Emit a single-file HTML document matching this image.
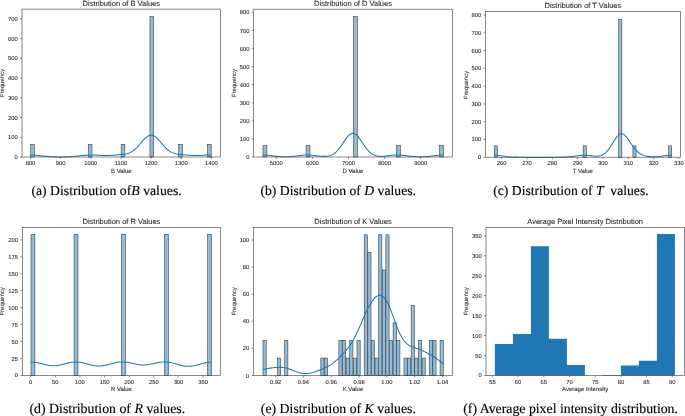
<!DOCTYPE html>
<html><head><meta charset="utf-8"><style>
html,body{margin:0;padding:0;background:#fff;}
body{width:685px;height:416px;overflow:hidden;}
svg{display:block;will-change:transform;filter:blur(0.3px);}
svg text{text-rendering:geometricPrecision;font-family:"Liberation Sans", sans-serif;fill:#262626;stroke:#262626;stroke-width:0.08px;}
svg text.cap{font-family:"Liberation Serif", serif;fill:#000;stroke:#000;stroke-width:0.15px;}
</style></head><body>
<svg width="685" height="416" viewBox="0 0 685 416">
<g>
<rect x="30.7" y="144.38" width="3.71" height="12.62" fill="#8fbbd9" stroke="#333333" stroke-width="0.55"/>
<rect x="88.26" y="144.38" width="3.71" height="12.62" fill="#8fbbd9" stroke="#333333" stroke-width="0.55"/>
<rect x="121.15" y="144.38" width="3.71" height="12.62" fill="#8fbbd9" stroke="#333333" stroke-width="0.55"/>
<rect x="149.93" y="16.54" width="3.71" height="140.46" fill="#8fbbd9" stroke="#333333" stroke-width="0.55"/>
<rect x="178.71" y="144.38" width="3.71" height="12.62" fill="#8fbbd9" stroke="#333333" stroke-width="0.55"/>
<rect x="207.49" y="144.38" width="3.71" height="12.62" fill="#8fbbd9" stroke="#333333" stroke-width="0.55"/>
<path d="M30.5,155.02 L31.41,155.03 L32.32,155.05 L33.23,155.09 L34.14,155.13 L35.05,155.19 L35.95,155.27 L36.86,155.35 L37.77,155.43 L38.68,155.53 L39.59,155.63 L40.5,155.73 L41.41,155.83 L42.32,155.93 L43.23,156.03 L44.14,156.13 L45.04,156.22 L45.95,156.31 L46.86,156.39 L47.77,156.47 L48.68,156.54 L49.59,156.6 L50.5,156.66 L51.41,156.71 L52.32,156.76 L53.23,156.79 L54.14,156.83 L55.04,156.86 L55.95,156.88 L56.86,156.9 L57.77,156.91 L58.68,156.92 L59.59,156.93 L60.5,156.93 L61.41,156.93 L62.32,156.92 L63.23,156.91 L64.13,156.9 L65.04,156.88 L65.95,156.86 L66.86,156.84 L67.77,156.81 L68.68,156.77 L69.59,156.73 L70.5,156.68 L71.41,156.62 L72.32,156.56 L73.23,156.49 L74.13,156.42 L75.04,156.34 L75.95,156.25 L76.86,156.16 L77.77,156.07 L78.68,155.97 L79.59,155.86 L80.5,155.76 L81.41,155.66 L82.32,155.56 L83.22,155.46 L84.13,155.37 L85.04,155.28 L85.95,155.21 L86.86,155.14 L87.77,155.09 L88.68,155.04 L89.59,155.01 L90.5,154.99 L91.41,154.98 L92.32,154.99 L93.22,155.01 L94.13,155.03 L95.04,155.07 L95.95,155.12 L96.86,155.17 L97.77,155.22 L98.68,155.28 L99.59,155.33 L100.5,155.38 L101.41,155.43 L102.31,155.47 L103.22,155.51 L104.13,155.53 L105.04,155.55 L105.95,155.55 L106.86,155.54 L107.77,155.52 L108.68,155.49 L109.59,155.46 L110.5,155.41 L111.41,155.35 L112.31,155.29 L113.22,155.23 L114.13,155.16 L115.04,155.09 L115.95,155.02 L116.86,154.94 L117.77,154.87 L118.68,154.8 L119.59,154.72 L120.5,154.64 L121.4,154.55 L122.31,154.46 L123.22,154.35 L124.13,154.22 L125.04,154.08 L125.95,153.9 L126.86,153.69 L127.77,153.43 L128.68,153.13 L129.59,152.77 L130.49,152.36 L131.4,151.88 L132.31,151.33 L133.22,150.7 L134.13,150.01 L135.04,149.24 L135.95,148.41 L136.86,147.51 L137.77,146.55 L138.68,145.54 L139.59,144.5 L140.49,143.44 L141.4,142.37 L142.31,141.31 L143.22,140.29 L144.13,139.31 L145.04,138.4 L145.95,137.57 L146.86,136.85 L147.77,136.25 L148.68,135.77 L149.58,135.44 L150.49,135.26 L151.4,135.24 L152.31,135.37 L153.22,135.65 L154.13,136.07 L155.04,136.63 L155.95,137.32 L156.86,138.11 L157.77,139 L158.68,139.95 L159.58,140.97 L160.49,142.02 L161.4,143.08 L162.31,144.15 L163.22,145.2 L164.13,146.22 L165.04,147.19 L165.95,148.11 L166.86,148.97 L167.77,149.76 L168.67,150.48 L169.58,151.13 L170.49,151.7 L171.4,152.2 L172.31,152.64 L173.22,153.02 L174.13,153.34 L175.04,153.61 L175.95,153.83 L176.86,154.02 L177.77,154.18 L178.67,154.31 L179.58,154.42 L180.49,154.52 L181.4,154.61 L182.31,154.69 L183.22,154.77 L184.13,154.85 L185.04,154.92 L185.95,154.99 L186.86,155.06 L187.76,155.14 L188.67,155.21 L189.58,155.27 L190.49,155.34 L191.4,155.39 L192.31,155.44 L193.22,155.48 L194.13,155.52 L195.04,155.54 L195.95,155.55 L196.86,155.55 L197.76,155.54 L198.67,155.52 L199.58,155.49 L200.49,155.45 L201.4,155.4 L202.31,155.35 L203.22,155.29 L204.13,155.24 L205.04,155.18 L205.95,155.13 L206.85,155.09 L207.76,155.05 L208.67,155.01 L209.58,154.99 L210.49,154.98 L211.4,154.99" fill="none" stroke="#1f77b4" stroke-width="1.05" stroke-linejoin="round"/>
<rect x="22" y="9.1" width="198.6" height="147.9" fill="none" stroke="#3a3a3a" stroke-width="0.6"/>
<line x1="30.5" y1="157" x2="30.5" y2="158.9" stroke="#3a3a3a" stroke-width="0.6"/>
<text x="30.5" y="165" text-anchor="middle" font-size="5.8">800</text>
<line x1="60.65" y1="157" x2="60.65" y2="158.9" stroke="#3a3a3a" stroke-width="0.6"/>
<text x="60.65" y="165" text-anchor="middle" font-size="5.8">900</text>
<line x1="90.8" y1="157" x2="90.8" y2="158.9" stroke="#3a3a3a" stroke-width="0.6"/>
<text x="90.8" y="165" text-anchor="middle" font-size="5.8">1000</text>
<line x1="120.95" y1="157" x2="120.95" y2="158.9" stroke="#3a3a3a" stroke-width="0.6"/>
<text x="120.95" y="165" text-anchor="middle" font-size="5.8">1100</text>
<line x1="151.1" y1="157" x2="151.1" y2="158.9" stroke="#3a3a3a" stroke-width="0.6"/>
<text x="151.1" y="165" text-anchor="middle" font-size="5.8">1200</text>
<line x1="181.25" y1="157" x2="181.25" y2="158.9" stroke="#3a3a3a" stroke-width="0.6"/>
<text x="181.25" y="165" text-anchor="middle" font-size="5.8">1300</text>
<line x1="211.4" y1="157" x2="211.4" y2="158.9" stroke="#3a3a3a" stroke-width="0.6"/>
<text x="211.4" y="165" text-anchor="middle" font-size="5.8">1400</text>
<line x1="20.1" y1="157" x2="22" y2="157" stroke="#3a3a3a" stroke-width="0.6"/>
<text x="17.7" y="159.05" text-anchor="end" font-size="5.8">0</text>
<line x1="20.1" y1="137.27" x2="22" y2="137.27" stroke="#3a3a3a" stroke-width="0.6"/>
<text x="17.7" y="139.32" text-anchor="end" font-size="5.8">100</text>
<line x1="20.1" y1="117.54" x2="22" y2="117.54" stroke="#3a3a3a" stroke-width="0.6"/>
<text x="17.7" y="119.59" text-anchor="end" font-size="5.8">200</text>
<line x1="20.1" y1="97.81" x2="22" y2="97.81" stroke="#3a3a3a" stroke-width="0.6"/>
<text x="17.7" y="99.86" text-anchor="end" font-size="5.8">300</text>
<line x1="20.1" y1="78.09" x2="22" y2="78.09" stroke="#3a3a3a" stroke-width="0.6"/>
<text x="17.7" y="80.14" text-anchor="end" font-size="5.8">400</text>
<line x1="20.1" y1="58.36" x2="22" y2="58.36" stroke="#3a3a3a" stroke-width="0.6"/>
<text x="17.7" y="60.41" text-anchor="end" font-size="5.8">500</text>
<line x1="20.1" y1="38.63" x2="22" y2="38.63" stroke="#3a3a3a" stroke-width="0.6"/>
<text x="17.7" y="40.68" text-anchor="end" font-size="5.8">600</text>
<line x1="20.1" y1="18.9" x2="22" y2="18.9" stroke="#3a3a3a" stroke-width="0.6"/>
<text x="17.7" y="20.95" text-anchor="end" font-size="5.8">700</text>
<text x="121.3" y="5.5" text-anchor="middle" font-size="7.5">Distribution of B Values</text>
<text x="121.3" y="172.8" text-anchor="middle" font-size="6.0">B Value</text>
<text transform="translate(4.3,83.05) rotate(-90)" x="0" y="0" text-anchor="middle" font-size="6.0">Frequency</text>
</g>
<g>
<rect x="263" y="145.45" width="3.91" height="11.55" fill="#8fbbd9" stroke="#333333" stroke-width="0.55"/>
<rect x="306.07" y="145.45" width="3.91" height="11.55" fill="#8fbbd9" stroke="#333333" stroke-width="0.55"/>
<rect x="353.45" y="16.58" width="3.91" height="140.42" fill="#8fbbd9" stroke="#333333" stroke-width="0.55"/>
<rect x="396.52" y="145.45" width="3.91" height="11.55" fill="#8fbbd9" stroke="#333333" stroke-width="0.55"/>
<rect x="439.59" y="145.45" width="3.91" height="11.55" fill="#8fbbd9" stroke="#333333" stroke-width="0.55"/>
<path d="M262.8,155.02 L263.71,155.03 L264.62,155.06 L265.53,155.1 L266.44,155.16 L267.35,155.24 L268.25,155.32 L269.16,155.42 L270.07,155.53 L270.98,155.64 L271.89,155.75 L272.8,155.87 L273.71,155.98 L274.62,156.09 L275.53,156.19 L276.44,156.29 L277.34,156.38 L278.25,156.46 L279.16,156.53 L280.07,156.59 L280.98,156.64 L281.89,156.69 L282.8,156.72 L283.71,156.74 L284.62,156.75 L285.53,156.74 L286.44,156.73 L287.34,156.71 L288.25,156.68 L289.16,156.64 L290.07,156.58 L290.98,156.52 L291.89,156.44 L292.8,156.36 L293.71,156.27 L294.62,156.17 L295.53,156.07 L296.43,155.96 L297.34,155.84 L298.25,155.73 L299.16,155.62 L300.07,155.51 L300.98,155.4 L301.89,155.31 L302.8,155.22 L303.71,155.15 L304.62,155.09 L305.53,155.05 L306.43,155.03 L307.34,155.02 L308.25,155.04 L309.16,155.07 L310.07,155.11 L310.98,155.18 L311.89,155.25 L312.8,155.34 L313.71,155.44 L314.62,155.54 L315.52,155.65 L316.43,155.76 L317.34,155.87 L318.25,155.97 L319.16,156.07 L320.07,156.16 L320.98,156.24 L321.89,156.3 L322.8,156.34 L323.71,156.36 L324.62,156.36 L325.52,156.33 L326.43,156.27 L327.34,156.17 L328.25,156.02 L329.16,155.83 L330.07,155.58 L330.98,155.27 L331.89,154.89 L332.8,154.43 L333.71,153.88 L334.61,153.25 L335.52,152.52 L336.43,151.7 L337.34,150.77 L338.25,149.75 L339.16,148.64 L340.07,147.45 L340.98,146.18 L341.89,144.85 L342.8,143.49 L343.71,142.11 L344.61,140.75 L345.52,139.42 L346.43,138.15 L347.34,136.98 L348.25,135.93 L349.16,135.03 L350.07,134.31 L350.98,133.77 L351.89,133.44 L352.8,133.33 L353.7,133.43 L354.61,133.75 L355.52,134.28 L356.43,134.99 L357.34,135.88 L358.25,136.92 L359.16,138.09 L360.07,139.35 L360.98,140.67 L361.89,142.04 L362.79,143.42 L363.7,144.78 L364.61,146.11 L365.52,147.38 L366.43,148.58 L367.34,149.7 L368.25,150.72 L369.16,151.65 L370.07,152.48 L370.98,153.21 L371.89,153.84 L372.79,154.39 L373.7,154.85 L374.61,155.23 L375.52,155.54 L376.43,155.79 L377.34,155.98 L378.25,156.12 L379.16,156.21 L380.07,156.27 L380.98,156.3 L381.88,156.29 L382.79,156.26 L383.7,156.21 L384.61,156.15 L385.52,156.07 L386.43,155.97 L387.34,155.87 L388.25,155.77 L389.16,155.66 L390.07,155.55 L390.98,155.45 L391.88,155.35 L392.79,155.26 L393.7,155.18 L394.61,155.12 L395.52,155.07 L396.43,155.04 L397.34,155.02 L398.25,155.03 L399.16,155.05 L400.07,155.09 L400.97,155.14 L401.88,155.21 L402.79,155.3 L403.7,155.39 L404.61,155.5 L405.52,155.6 L406.43,155.72 L407.34,155.83 L408.25,155.95 L409.16,156.06 L410.07,156.16 L410.97,156.27 L411.88,156.36 L412.79,156.44 L413.7,156.52 L414.61,156.59 L415.52,156.65 L416.43,156.69 L417.34,156.73 L418.25,156.76 L419.16,156.78 L420.06,156.79 L420.97,156.8 L421.88,156.79 L422.79,156.77 L423.7,156.74 L424.61,156.71 L425.52,156.66 L426.43,156.61 L427.34,156.54 L428.25,156.47 L429.16,156.39 L430.06,156.29 L430.97,156.2 L431.88,156.09 L432.79,155.98 L433.7,155.87 L434.61,155.75 L435.52,155.64 L436.43,155.53 L437.34,155.42 L438.25,155.32 L439.15,155.24 L440.06,155.16 L440.97,155.1 L441.88,155.06 L442.79,155.03 L443.7,155.02" fill="none" stroke="#1f77b4" stroke-width="1.05" stroke-linejoin="round"/>
<rect x="253.7" y="9.2" width="198.6" height="147.8" fill="none" stroke="#3a3a3a" stroke-width="0.6"/>
<line x1="276.3" y1="157" x2="276.3" y2="158.9" stroke="#3a3a3a" stroke-width="0.6"/>
<text x="276.3" y="165" text-anchor="middle" font-size="5.8">5000</text>
<line x1="312.4" y1="157" x2="312.4" y2="158.9" stroke="#3a3a3a" stroke-width="0.6"/>
<text x="312.4" y="165" text-anchor="middle" font-size="5.8">6000</text>
<line x1="348.5" y1="157" x2="348.5" y2="158.9" stroke="#3a3a3a" stroke-width="0.6"/>
<text x="348.5" y="165" text-anchor="middle" font-size="5.8">7000</text>
<line x1="384.6" y1="157" x2="384.6" y2="158.9" stroke="#3a3a3a" stroke-width="0.6"/>
<text x="384.6" y="165" text-anchor="middle" font-size="5.8">8000</text>
<line x1="420.7" y1="157" x2="420.7" y2="158.9" stroke="#3a3a3a" stroke-width="0.6"/>
<text x="420.7" y="165" text-anchor="middle" font-size="5.8">9000</text>
<line x1="251.8" y1="157" x2="253.7" y2="157" stroke="#3a3a3a" stroke-width="0.6"/>
<text x="249.4" y="159.05" text-anchor="end" font-size="5.8">0</text>
<line x1="251.8" y1="138.93" x2="253.7" y2="138.93" stroke="#3a3a3a" stroke-width="0.6"/>
<text x="249.4" y="140.98" text-anchor="end" font-size="5.8">100</text>
<line x1="251.8" y1="120.85" x2="253.7" y2="120.85" stroke="#3a3a3a" stroke-width="0.6"/>
<text x="249.4" y="122.9" text-anchor="end" font-size="5.8">200</text>
<line x1="251.8" y1="102.78" x2="253.7" y2="102.78" stroke="#3a3a3a" stroke-width="0.6"/>
<text x="249.4" y="104.83" text-anchor="end" font-size="5.8">300</text>
<line x1="251.8" y1="84.7" x2="253.7" y2="84.7" stroke="#3a3a3a" stroke-width="0.6"/>
<text x="249.4" y="86.75" text-anchor="end" font-size="5.8">400</text>
<line x1="251.8" y1="66.62" x2="253.7" y2="66.62" stroke="#3a3a3a" stroke-width="0.6"/>
<text x="249.4" y="68.67" text-anchor="end" font-size="5.8">500</text>
<line x1="251.8" y1="48.55" x2="253.7" y2="48.55" stroke="#3a3a3a" stroke-width="0.6"/>
<text x="249.4" y="50.6" text-anchor="end" font-size="5.8">600</text>
<line x1="251.8" y1="30.48" x2="253.7" y2="30.48" stroke="#3a3a3a" stroke-width="0.6"/>
<text x="249.4" y="32.53" text-anchor="end" font-size="5.8">700</text>
<line x1="251.8" y1="12.4" x2="253.7" y2="12.4" stroke="#3a3a3a" stroke-width="0.6"/>
<text x="249.4" y="14.45" text-anchor="end" font-size="5.8">800</text>
<text x="353" y="5.6" text-anchor="middle" font-size="7.5">Distribution of D Values</text>
<text x="353" y="172.8" text-anchor="middle" font-size="6.0">D Value</text>
<text transform="translate(235.7,83.1) rotate(-90)" x="0" y="0" text-anchor="middle" font-size="6.0">Frequency</text>
</g>
<g>
<rect x="494.3" y="145.85" width="3.15" height="11.35" fill="#8fbbd9" stroke="#333333" stroke-width="0.55"/>
<rect x="583.15" y="145.85" width="3.15" height="11.35" fill="#8fbbd9" stroke="#333333" stroke-width="0.55"/>
<rect x="618.69" y="19.21" width="3.15" height="137.99" fill="#8fbbd9" stroke="#333333" stroke-width="0.55"/>
<rect x="632.91" y="145.85" width="3.15" height="11.35" fill="#8fbbd9" stroke="#333333" stroke-width="0.55"/>
<rect x="668.45" y="145.85" width="3.15" height="11.35" fill="#8fbbd9" stroke="#333333" stroke-width="0.55"/>
<path d="M494.11,155.29 L495,155.3 L495.89,155.33 L496.78,155.38 L497.68,155.45 L498.57,155.53 L499.46,155.63 L500.36,155.74 L501.25,155.85 L502.14,155.97 L503.04,156.09 L503.93,156.21 L504.82,156.33 L505.71,156.44 L506.61,156.54 L507.5,156.64 L508.39,156.72 L509.29,156.8 L510.18,156.87 L511.07,156.93 L511.97,156.98 L512.86,157.03 L513.75,157.06 L514.64,157.09 L515.54,157.12 L516.43,157.14 L517.32,157.15 L518.22,157.16 L519.11,157.17 L520,157.18 L520.9,157.19 L521.79,157.19 L522.68,157.19 L523.57,157.19 L524.47,157.2 L525.36,157.2 L526.25,157.2 L527.15,157.2 L528.04,157.2 L528.93,157.2 L529.83,157.2 L530.72,157.2 L531.61,157.2 L532.5,157.2 L533.4,157.2 L534.29,157.2 L535.18,157.2 L536.08,157.2 L536.97,157.2 L537.86,157.2 L538.76,157.2 L539.65,157.2 L540.54,157.2 L541.43,157.2 L542.33,157.2 L543.22,157.2 L544.11,157.2 L545.01,157.2 L545.9,157.2 L546.79,157.2 L547.69,157.2 L548.58,157.2 L549.47,157.2 L550.36,157.2 L551.26,157.2 L552.15,157.2 L553.04,157.2 L553.94,157.2 L554.83,157.19 L555.72,157.19 L556.62,157.19 L557.51,157.18 L558.4,157.18 L559.29,157.17 L560.19,157.16 L561.08,157.15 L561.97,157.13 L562.87,157.11 L563.76,157.08 L564.65,157.05 L565.55,157.01 L566.44,156.97 L567.33,156.91 L568.22,156.85 L569.12,156.78 L570.01,156.7 L570.9,156.61 L571.8,156.51 L572.69,156.4 L573.58,156.29 L574.48,156.17 L575.37,156.05 L576.26,155.93 L577.15,155.81 L578.05,155.7 L578.94,155.6 L579.83,155.51 L580.73,155.43 L581.62,155.36 L582.51,155.32 L583.41,155.29 L584.3,155.29 L585.19,155.3 L586.08,155.34 L586.98,155.39 L587.87,155.46 L588.76,155.54 L589.66,155.63 L590.55,155.73 L591.44,155.83 L592.34,155.93 L593.23,156.01 L594.12,156.09 L595.01,156.14 L595.91,156.17 L596.8,156.17 L597.69,156.13 L598.59,156.04 L599.48,155.89 L600.37,155.68 L601.27,155.4 L602.16,155.04 L603.05,154.58 L603.94,154.03 L604.84,153.37 L605.73,152.6 L606.62,151.71 L607.52,150.71 L608.41,149.59 L609.3,148.38 L610.2,147.07 L611.09,145.69 L611.98,144.25 L612.87,142.8 L613.77,141.34 L614.66,139.93 L615.55,138.58 L616.45,137.35 L617.34,136.25 L618.23,135.33 L619.13,134.6 L620.02,134.09 L620.91,133.81 L621.8,133.77 L622.7,133.96 L623.59,134.39 L624.48,135.03 L625.38,135.86 L626.27,136.85 L627.16,137.98 L628.06,139.21 L628.95,140.51 L629.84,141.85 L630.73,143.21 L631.63,144.54 L632.52,145.83 L633.41,147.07 L634.31,148.23 L635.2,149.31 L636.09,150.3 L636.99,151.2 L637.88,152.02 L638.77,152.74 L639.66,153.38 L640.56,153.94 L641.45,154.43 L642.34,154.86 L643.24,155.23 L644.13,155.54 L645.02,155.81 L645.92,156.04 L646.81,156.23 L647.7,156.39 L648.59,156.52 L649.49,156.62 L650.38,156.7 L651.27,156.76 L652.17,156.8 L653.06,156.82 L653.95,156.82 L654.85,156.81 L655.74,156.78 L656.63,156.73 L657.52,156.67 L658.42,156.6 L659.31,156.51 L660.2,156.41 L661.1,156.31 L661.99,156.2 L662.88,156.08 L663.78,155.96 L664.67,155.85 L665.56,155.73 L666.45,155.63 L667.35,155.53 L668.24,155.45 L669.13,155.38 L670.03,155.33 L670.92,155.3 L671.81,155.29" fill="none" stroke="#1f77b4" stroke-width="1.05" stroke-linejoin="round"/>
<rect x="485.5" y="11.4" width="194.8" height="145.8" fill="none" stroke="#3a3a3a" stroke-width="0.6"/>
<line x1="501.7" y1="157.2" x2="501.7" y2="159.1" stroke="#3a3a3a" stroke-width="0.6"/>
<text x="501.7" y="165.2" text-anchor="middle" font-size="5.8">260</text>
<line x1="527.01" y1="157.2" x2="527.01" y2="159.1" stroke="#3a3a3a" stroke-width="0.6"/>
<text x="527.01" y="165.2" text-anchor="middle" font-size="5.8">270</text>
<line x1="552.33" y1="157.2" x2="552.33" y2="159.1" stroke="#3a3a3a" stroke-width="0.6"/>
<text x="552.33" y="165.2" text-anchor="middle" font-size="5.8">280</text>
<line x1="577.64" y1="157.2" x2="577.64" y2="159.1" stroke="#3a3a3a" stroke-width="0.6"/>
<text x="577.64" y="165.2" text-anchor="middle" font-size="5.8">290</text>
<line x1="602.96" y1="157.2" x2="602.96" y2="159.1" stroke="#3a3a3a" stroke-width="0.6"/>
<text x="602.96" y="165.2" text-anchor="middle" font-size="5.8">300</text>
<line x1="628.27" y1="157.2" x2="628.27" y2="159.1" stroke="#3a3a3a" stroke-width="0.6"/>
<text x="628.27" y="165.2" text-anchor="middle" font-size="5.8">310</text>
<line x1="653.59" y1="157.2" x2="653.59" y2="159.1" stroke="#3a3a3a" stroke-width="0.6"/>
<text x="653.59" y="165.2" text-anchor="middle" font-size="5.8">320</text>
<line x1="678.9" y1="157.2" x2="678.9" y2="159.1" stroke="#3a3a3a" stroke-width="0.6"/>
<text x="678.9" y="165.2" text-anchor="middle" font-size="5.8">330</text>
<line x1="483.6" y1="157.2" x2="485.5" y2="157.2" stroke="#3a3a3a" stroke-width="0.6"/>
<text x="481.2" y="159.25" text-anchor="end" font-size="5.8">0</text>
<line x1="483.6" y1="139.44" x2="485.5" y2="139.44" stroke="#3a3a3a" stroke-width="0.6"/>
<text x="481.2" y="141.49" text-anchor="end" font-size="5.8">100</text>
<line x1="483.6" y1="121.67" x2="485.5" y2="121.67" stroke="#3a3a3a" stroke-width="0.6"/>
<text x="481.2" y="123.72" text-anchor="end" font-size="5.8">200</text>
<line x1="483.6" y1="103.91" x2="485.5" y2="103.91" stroke="#3a3a3a" stroke-width="0.6"/>
<text x="481.2" y="105.96" text-anchor="end" font-size="5.8">300</text>
<line x1="483.6" y1="86.15" x2="485.5" y2="86.15" stroke="#3a3a3a" stroke-width="0.6"/>
<text x="481.2" y="88.2" text-anchor="end" font-size="5.8">400</text>
<line x1="483.6" y1="68.39" x2="485.5" y2="68.39" stroke="#3a3a3a" stroke-width="0.6"/>
<text x="481.2" y="70.44" text-anchor="end" font-size="5.8">500</text>
<line x1="483.6" y1="50.62" x2="485.5" y2="50.62" stroke="#3a3a3a" stroke-width="0.6"/>
<text x="481.2" y="52.67" text-anchor="end" font-size="5.8">600</text>
<line x1="483.6" y1="32.86" x2="485.5" y2="32.86" stroke="#3a3a3a" stroke-width="0.6"/>
<text x="481.2" y="34.91" text-anchor="end" font-size="5.8">700</text>
<line x1="483.6" y1="15.1" x2="485.5" y2="15.1" stroke="#3a3a3a" stroke-width="0.6"/>
<text x="481.2" y="17.15" text-anchor="end" font-size="5.8">800</text>
<text x="582.9" y="7.8" text-anchor="middle" font-size="7.5">Distribution of T Values</text>
<text x="582.9" y="173" text-anchor="middle" font-size="6.0">T Value</text>
<text transform="translate(467.5,85) rotate(-90)" x="0" y="0" text-anchor="middle" font-size="6.0">Frequency</text>
</g>
<g>
<rect x="31" y="234.34" width="3.91" height="141.06" fill="#8fbbd9" stroke="#333333" stroke-width="0.55"/>
<rect x="74.07" y="234.34" width="3.91" height="141.06" fill="#8fbbd9" stroke="#333333" stroke-width="0.55"/>
<rect x="121.45" y="234.34" width="3.91" height="141.06" fill="#8fbbd9" stroke="#333333" stroke-width="0.55"/>
<rect x="164.52" y="234.34" width="3.91" height="141.06" fill="#8fbbd9" stroke="#333333" stroke-width="0.55"/>
<rect x="207.59" y="234.34" width="3.91" height="141.06" fill="#8fbbd9" stroke="#333333" stroke-width="0.55"/>
<path d="M30.8,362.22 L31.71,362.2 L32.62,362.21 L33.53,362.26 L34.44,362.34 L35.34,362.44 L36.25,362.58 L37.16,362.74 L38.07,362.92 L38.98,363.13 L39.89,363.34 L40.8,363.57 L41.71,363.8 L42.62,364.03 L43.53,364.27 L44.43,364.49 L45.34,364.71 L46.25,364.92 L47.16,365.11 L48.07,365.28 L48.98,365.43 L49.89,365.55 L50.8,365.65 L51.71,365.72 L52.62,365.76 L53.52,365.77 L54.43,365.75 L55.34,365.71 L56.25,365.63 L57.16,365.52 L58.07,365.39 L58.98,365.23 L59.89,365.06 L60.8,364.86 L61.71,364.65 L62.61,364.42 L63.52,364.19 L64.43,363.95 L65.34,363.71 L66.25,363.47 L67.16,363.24 L68.07,363.02 L68.98,362.82 L69.89,362.63 L70.8,362.46 L71.7,362.31 L72.61,362.19 L73.52,362.1 L74.43,362.03 L75.34,362 L76.25,362 L77.16,362.02 L78.07,362.08 L78.98,362.17 L79.89,362.28 L80.79,362.42 L81.7,362.59 L82.61,362.78 L83.52,362.98 L84.43,363.21 L85.34,363.44 L86.25,363.68 L87.16,363.93 L88.07,364.18 L88.98,364.43 L89.88,364.67 L90.79,364.9 L91.7,365.12 L92.61,365.32 L93.52,365.5 L94.43,365.65 L95.34,365.78 L96.25,365.89 L97.16,365.96 L98.07,366.01 L98.97,366.02 L99.88,366 L100.79,365.95 L101.7,365.88 L102.61,365.77 L103.52,365.63 L104.43,365.47 L105.34,365.29 L106.25,365.09 L107.16,364.87 L108.06,364.64 L108.97,364.39 L109.88,364.14 L110.79,363.89 L111.7,363.64 L112.61,363.39 L113.52,363.16 L114.43,362.93 L115.34,362.72 L116.25,362.53 L117.15,362.36 L118.06,362.21 L118.97,362.09 L119.88,362 L120.79,361.94 L121.7,361.9 L122.61,361.9 L123.52,361.92 L124.43,361.97 L125.34,362.05 L126.24,362.16 L127.15,362.28 L128.06,362.43 L128.97,362.6 L129.88,362.78 L130.79,362.97 L131.7,363.18 L132.61,363.38 L133.52,363.59 L134.43,363.79 L135.33,363.99 L136.24,364.17 L137.15,364.35 L138.06,364.5 L138.97,364.64 L139.88,364.76 L140.79,364.85 L141.7,364.92 L142.61,364.96 L143.52,364.97 L144.42,364.96 L145.33,364.91 L146.24,364.85 L147.15,364.75 L148.06,364.64 L148.97,364.5 L149.88,364.34 L150.79,364.17 L151.7,363.98 L152.6,363.79 L153.51,363.58 L154.42,363.38 L155.33,363.17 L156.24,362.97 L157.15,362.78 L158.06,362.6 L158.97,362.44 L159.88,362.29 L160.79,362.17 L161.69,362.06 L162.6,361.99 L163.51,361.94 L164.42,361.92 L165.33,361.93 L166.24,361.97 L167.15,362.04 L168.06,362.14 L168.97,362.27 L169.88,362.42 L170.78,362.6 L171.69,362.8 L172.6,363.01 L173.51,363.25 L174.42,363.5 L175.33,363.75 L176.24,364.01 L177.15,364.28 L178.06,364.54 L178.97,364.8 L179.87,365.04 L180.78,365.27 L181.69,365.49 L182.6,365.69 L183.51,365.86 L184.42,366.01 L185.33,366.13 L186.24,366.22 L187.15,366.28 L188.06,366.31 L188.96,366.31 L189.87,366.27 L190.78,366.21 L191.69,366.11 L192.6,365.99 L193.51,365.84 L194.42,365.66 L195.33,365.47 L196.24,365.25 L197.15,365.02 L198.05,364.78 L198.96,364.52 L199.87,364.27 L200.78,364.01 L201.69,363.76 L202.6,363.51 L203.51,363.28 L204.42,363.07 L205.33,362.87 L206.24,362.69 L207.14,362.54 L208.05,362.42 L208.96,362.33 L209.87,362.28 L210.78,362.25 L211.69,362.27" fill="none" stroke="#1f77b4" stroke-width="1.05" stroke-linejoin="round"/>
<rect x="22.3" y="227.4" width="198.3" height="148" fill="none" stroke="#3a3a3a" stroke-width="0.6"/>
<line x1="30.7" y1="375.4" x2="30.7" y2="377.3" stroke="#3a3a3a" stroke-width="0.6"/>
<text x="30.7" y="384" text-anchor="middle" font-size="5.8">0</text>
<line x1="55.33" y1="375.4" x2="55.33" y2="377.3" stroke="#3a3a3a" stroke-width="0.6"/>
<text x="55.33" y="384" text-anchor="middle" font-size="5.8">50</text>
<line x1="79.96" y1="375.4" x2="79.96" y2="377.3" stroke="#3a3a3a" stroke-width="0.6"/>
<text x="79.96" y="384" text-anchor="middle" font-size="5.8">100</text>
<line x1="104.59" y1="375.4" x2="104.59" y2="377.3" stroke="#3a3a3a" stroke-width="0.6"/>
<text x="104.59" y="384" text-anchor="middle" font-size="5.8">150</text>
<line x1="129.21" y1="375.4" x2="129.21" y2="377.3" stroke="#3a3a3a" stroke-width="0.6"/>
<text x="129.21" y="384" text-anchor="middle" font-size="5.8">200</text>
<line x1="153.84" y1="375.4" x2="153.84" y2="377.3" stroke="#3a3a3a" stroke-width="0.6"/>
<text x="153.84" y="384" text-anchor="middle" font-size="5.8">250</text>
<line x1="178.47" y1="375.4" x2="178.47" y2="377.3" stroke="#3a3a3a" stroke-width="0.6"/>
<text x="178.47" y="384" text-anchor="middle" font-size="5.8">300</text>
<line x1="203.1" y1="375.4" x2="203.1" y2="377.3" stroke="#3a3a3a" stroke-width="0.6"/>
<text x="203.1" y="384" text-anchor="middle" font-size="5.8">350</text>
<line x1="20.4" y1="375.4" x2="22.3" y2="375.4" stroke="#3a3a3a" stroke-width="0.6"/>
<text x="18" y="377.45" text-anchor="end" font-size="5.8">0</text>
<line x1="20.4" y1="358.46" x2="22.3" y2="358.46" stroke="#3a3a3a" stroke-width="0.6"/>
<text x="18" y="360.51" text-anchor="end" font-size="5.8">25</text>
<line x1="20.4" y1="341.52" x2="22.3" y2="341.52" stroke="#3a3a3a" stroke-width="0.6"/>
<text x="18" y="343.57" text-anchor="end" font-size="5.8">50</text>
<line x1="20.4" y1="324.59" x2="22.3" y2="324.59" stroke="#3a3a3a" stroke-width="0.6"/>
<text x="18" y="326.64" text-anchor="end" font-size="5.8">75</text>
<line x1="20.4" y1="307.65" x2="22.3" y2="307.65" stroke="#3a3a3a" stroke-width="0.6"/>
<text x="18" y="309.7" text-anchor="end" font-size="5.8">100</text>
<line x1="20.4" y1="290.71" x2="22.3" y2="290.71" stroke="#3a3a3a" stroke-width="0.6"/>
<text x="18" y="292.76" text-anchor="end" font-size="5.8">125</text>
<line x1="20.4" y1="273.77" x2="22.3" y2="273.77" stroke="#3a3a3a" stroke-width="0.6"/>
<text x="18" y="275.82" text-anchor="end" font-size="5.8">150</text>
<line x1="20.4" y1="256.84" x2="22.3" y2="256.84" stroke="#3a3a3a" stroke-width="0.6"/>
<text x="18" y="258.89" text-anchor="end" font-size="5.8">175</text>
<line x1="20.4" y1="239.9" x2="22.3" y2="239.9" stroke="#3a3a3a" stroke-width="0.6"/>
<text x="18" y="241.95" text-anchor="end" font-size="5.8">200</text>
<text x="121.45" y="223.8" text-anchor="middle" font-size="7.5">Distribution of R Values</text>
<text x="121.45" y="391.2" text-anchor="middle" font-size="6.0">R Value</text>
<text transform="translate(4.2,301.4) rotate(-90)" x="0" y="0" text-anchor="middle" font-size="6.0">Frequency</text>
</g>
<g>
<rect x="263" y="340.47" width="3.21" height="35.03" fill="#8fbbd9" stroke="#333333" stroke-width="0.55"/>
<rect x="277.46" y="358.08" width="3.21" height="17.42" fill="#8fbbd9" stroke="#333333" stroke-width="0.55"/>
<rect x="284.68" y="340.47" width="3.21" height="35.03" fill="#8fbbd9" stroke="#333333" stroke-width="0.55"/>
<rect x="320.82" y="358.08" width="3.21" height="17.42" fill="#8fbbd9" stroke="#333333" stroke-width="0.55"/>
<rect x="324.44" y="358.08" width="3.21" height="17.42" fill="#8fbbd9" stroke="#333333" stroke-width="0.55"/>
<rect x="338.89" y="340.47" width="3.21" height="35.03" fill="#8fbbd9" stroke="#333333" stroke-width="0.55"/>
<rect x="342.51" y="340.47" width="3.21" height="35.03" fill="#8fbbd9" stroke="#333333" stroke-width="0.55"/>
<rect x="346.12" y="358.08" width="3.21" height="17.42" fill="#8fbbd9" stroke="#333333" stroke-width="0.55"/>
<rect x="349.74" y="340.47" width="3.21" height="35.03" fill="#8fbbd9" stroke="#333333" stroke-width="0.55"/>
<rect x="353.35" y="358.08" width="3.21" height="17.42" fill="#8fbbd9" stroke="#333333" stroke-width="0.55"/>
<rect x="356.96" y="340.47" width="3.21" height="35.03" fill="#8fbbd9" stroke="#333333" stroke-width="0.55"/>
<rect x="364.19" y="234.78" width="3.21" height="140.72" fill="#8fbbd9" stroke="#333333" stroke-width="0.55"/>
<rect x="367.81" y="252.39" width="3.21" height="123.11" fill="#8fbbd9" stroke="#333333" stroke-width="0.55"/>
<rect x="371.42" y="340.47" width="3.21" height="35.03" fill="#8fbbd9" stroke="#333333" stroke-width="0.55"/>
<rect x="375.03" y="358.08" width="3.21" height="17.42" fill="#8fbbd9" stroke="#333333" stroke-width="0.55"/>
<rect x="378.65" y="234.78" width="3.21" height="140.72" fill="#8fbbd9" stroke="#333333" stroke-width="0.55"/>
<rect x="382.26" y="270.01" width="3.21" height="105.49" fill="#8fbbd9" stroke="#333333" stroke-width="0.55"/>
<rect x="385.88" y="234.78" width="3.21" height="140.72" fill="#8fbbd9" stroke="#333333" stroke-width="0.55"/>
<rect x="389.49" y="340.47" width="3.21" height="35.03" fill="#8fbbd9" stroke="#333333" stroke-width="0.55"/>
<rect x="393.1" y="322.85" width="3.21" height="52.65" fill="#8fbbd9" stroke="#333333" stroke-width="0.55"/>
<rect x="396.72" y="340.47" width="3.21" height="35.03" fill="#8fbbd9" stroke="#333333" stroke-width="0.55"/>
<rect x="403.95" y="358.08" width="3.21" height="17.42" fill="#8fbbd9" stroke="#333333" stroke-width="0.55"/>
<rect x="407.56" y="358.08" width="3.21" height="17.42" fill="#8fbbd9" stroke="#333333" stroke-width="0.55"/>
<rect x="411.17" y="305.24" width="3.21" height="70.26" fill="#8fbbd9" stroke="#333333" stroke-width="0.55"/>
<rect x="414.79" y="358.08" width="3.21" height="17.42" fill="#8fbbd9" stroke="#333333" stroke-width="0.55"/>
<rect x="418.4" y="340.47" width="3.21" height="35.03" fill="#8fbbd9" stroke="#333333" stroke-width="0.55"/>
<rect x="422.02" y="358.08" width="3.21" height="17.42" fill="#8fbbd9" stroke="#333333" stroke-width="0.55"/>
<rect x="429.24" y="340.47" width="3.21" height="35.03" fill="#8fbbd9" stroke="#333333" stroke-width="0.55"/>
<rect x="432.86" y="340.47" width="3.21" height="35.03" fill="#8fbbd9" stroke="#333333" stroke-width="0.55"/>
<rect x="440.09" y="340.47" width="3.21" height="35.03" fill="#8fbbd9" stroke="#333333" stroke-width="0.55"/>
<path d="M262.81,369.56 L263.72,369.32 L264.62,369.1 L265.53,368.9 L266.44,368.71 L267.35,368.54 L268.25,368.39 L269.16,368.25 L270.07,368.12 L270.98,368 L271.88,367.89 L272.79,367.79 L273.7,367.69 L274.61,367.6 L275.51,367.53 L276.42,367.46 L277.33,367.4 L278.24,367.36 L279.14,367.33 L280.05,367.33 L280.96,367.35 L281.86,367.39 L282.77,367.47 L283.68,367.57 L284.59,367.71 L285.49,367.89 L286.4,368.09 L287.31,368.33 L288.22,368.6 L289.12,368.9 L290.03,369.22 L290.94,369.56 L291.85,369.92 L292.75,370.28 L293.66,370.65 L294.57,371.02 L295.48,371.38 L296.38,371.73 L297.29,372.06 L298.2,372.37 L299.11,372.65 L300.01,372.9 L300.92,373.12 L301.83,373.3 L302.74,373.44 L303.64,373.55 L304.55,373.61 L305.46,373.64 L306.37,373.62 L307.27,373.57 L308.18,373.48 L309.09,373.35 L310,373.19 L310.9,373 L311.81,372.78 L312.72,372.53 L313.63,372.25 L314.53,371.96 L315.44,371.65 L316.35,371.32 L317.26,370.99 L318.16,370.64 L319.07,370.28 L319.98,369.92 L320.89,369.55 L321.79,369.17 L322.7,368.79 L323.61,368.39 L324.52,367.99 L325.42,367.57 L326.33,367.14 L327.24,366.68 L328.15,366.2 L329.05,365.69 L329.96,365.16 L330.87,364.59 L331.78,363.99 L332.68,363.35 L333.59,362.67 L334.5,361.96 L335.41,361.22 L336.31,360.44 L337.22,359.64 L338.13,358.8 L339.04,357.94 L339.94,357.05 L340.85,356.14 L341.76,355.21 L342.67,354.25 L343.57,353.27 L344.48,352.26 L345.39,351.22 L346.3,350.15 L347.2,349.03 L348.11,347.87 L349.02,346.65 L349.93,345.36 L350.83,344.01 L351.74,342.58 L352.65,341.07 L353.56,339.47 L354.46,337.8 L355.37,336.04 L356.28,334.2 L357.19,332.29 L358.09,330.31 L359,328.29 L359.91,326.22 L360.82,324.12 L361.72,322.01 L362.63,319.91 L363.54,317.82 L364.45,315.77 L365.35,313.76 L366.26,311.81 L367.17,309.93 L368.08,308.13 L368.98,306.42 L369.89,304.8 L370.8,303.29 L371.7,301.89 L372.61,300.6 L373.52,299.43 L374.43,298.38 L375.33,297.47 L376.24,296.71 L377.15,296.09 L378.06,295.64 L378.96,295.36 L379.87,295.26 L380.78,295.36 L381.69,295.66 L382.59,296.18 L383.5,296.91 L384.41,297.86 L385.32,299.03 L386.22,300.42 L387.13,302.01 L388.04,303.8 L388.95,305.76 L389.85,307.87 L390.76,310.12 L391.67,312.48 L392.58,314.9 L393.48,317.38 L394.39,319.86 L395.3,322.33 L396.21,324.76 L397.11,327.11 L398.02,329.36 L398.93,331.5 L399.84,333.5 L400.74,335.35 L401.65,337.05 L402.56,338.59 L403.47,339.96 L404.37,341.17 L405.28,342.24 L406.19,343.16 L407.1,343.96 L408,344.64 L408.91,345.22 L409.82,345.72 L410.73,346.15 L411.63,346.53 L412.54,346.88 L413.45,347.2 L414.36,347.51 L415.26,347.82 L416.17,348.14 L417.08,348.47 L417.99,348.81 L418.89,349.17 L419.8,349.54 L420.71,349.93 L421.62,350.34 L422.52,350.76 L423.43,351.19 L424.34,351.62 L425.25,352.07 L426.15,352.52 L427.06,352.98 L427.97,353.44 L428.88,353.91 L429.78,354.4 L430.69,354.89 L431.6,355.4 L432.51,355.92 L433.41,356.47 L434.32,357.04 L435.23,357.63 L436.14,358.25 L437.04,358.9 L437.95,359.58 L438.86,360.28 L439.77,361 L440.67,361.75 L441.58,362.51 L442.49,363.28 L443.4,364.07" fill="none" stroke="#1f77b4" stroke-width="1.05" stroke-linejoin="round"/>
<rect x="253.6" y="227.4" width="198.8" height="148.1" fill="none" stroke="#3a3a3a" stroke-width="0.6"/>
<line x1="275.6" y1="375.5" x2="275.6" y2="377.4" stroke="#3a3a3a" stroke-width="0.6"/>
<text x="275.6" y="384.1" text-anchor="middle" font-size="5.8">0.92</text>
<line x1="303.42" y1="375.5" x2="303.42" y2="377.4" stroke="#3a3a3a" stroke-width="0.6"/>
<text x="303.42" y="384.1" text-anchor="middle" font-size="5.8">0.94</text>
<line x1="331.23" y1="375.5" x2="331.23" y2="377.4" stroke="#3a3a3a" stroke-width="0.6"/>
<text x="331.23" y="384.1" text-anchor="middle" font-size="5.8">0.96</text>
<line x1="359.05" y1="375.5" x2="359.05" y2="377.4" stroke="#3a3a3a" stroke-width="0.6"/>
<text x="359.05" y="384.1" text-anchor="middle" font-size="5.8">0.98</text>
<line x1="386.87" y1="375.5" x2="386.87" y2="377.4" stroke="#3a3a3a" stroke-width="0.6"/>
<text x="386.87" y="384.1" text-anchor="middle" font-size="5.8">1.00</text>
<line x1="414.68" y1="375.5" x2="414.68" y2="377.4" stroke="#3a3a3a" stroke-width="0.6"/>
<text x="414.68" y="384.1" text-anchor="middle" font-size="5.8">1.02</text>
<line x1="442.5" y1="375.5" x2="442.5" y2="377.4" stroke="#3a3a3a" stroke-width="0.6"/>
<text x="442.5" y="384.1" text-anchor="middle" font-size="5.8">1.04</text>
<line x1="251.7" y1="375.5" x2="253.6" y2="375.5" stroke="#3a3a3a" stroke-width="0.6"/>
<text x="249.3" y="377.55" text-anchor="end" font-size="5.8">0</text>
<line x1="251.7" y1="348.4" x2="253.6" y2="348.4" stroke="#3a3a3a" stroke-width="0.6"/>
<text x="249.3" y="350.45" text-anchor="end" font-size="5.8">20</text>
<line x1="251.7" y1="321.3" x2="253.6" y2="321.3" stroke="#3a3a3a" stroke-width="0.6"/>
<text x="249.3" y="323.35" text-anchor="end" font-size="5.8">40</text>
<line x1="251.7" y1="294.2" x2="253.6" y2="294.2" stroke="#3a3a3a" stroke-width="0.6"/>
<text x="249.3" y="296.25" text-anchor="end" font-size="5.8">60</text>
<line x1="251.7" y1="267.1" x2="253.6" y2="267.1" stroke="#3a3a3a" stroke-width="0.6"/>
<text x="249.3" y="269.15" text-anchor="end" font-size="5.8">80</text>
<line x1="251.7" y1="240" x2="253.6" y2="240" stroke="#3a3a3a" stroke-width="0.6"/>
<text x="249.3" y="242.05" text-anchor="end" font-size="5.8">100</text>
<text x="353" y="223.8" text-anchor="middle" font-size="7.5">Distribution of K Values</text>
<text x="353" y="391.3" text-anchor="middle" font-size="6.0">K Value</text>
<text transform="translate(235.8,301.45) rotate(-90)" x="0" y="0" text-anchor="middle" font-size="6.0">Frequency</text>
</g>
<g>
<path d="M494.9,375.4 L494.9,343.91 L512.9,343.91 L512.9,333.95 L530.9,333.95 L530.9,246.26 L548.9,246.26 L548.9,338.73 L566.9,338.73 L566.9,365.04 L584.9,365.04 L584.9,375.4 L602.9,375.4 L602.9,375 L620.9,375 L620.9,365.44 L638.9,365.44 L638.9,360.65 L656.9,360.65 L656.9,233.91 L674.9,233.91 L674.9,375.4 Z" fill="#1f77b4"/>
<rect x="486" y="227.4" width="198.3" height="148" fill="none" stroke="#3a3a3a" stroke-width="0.6"/>
<line x1="492.4" y1="375.4" x2="492.4" y2="377.3" stroke="#3a3a3a" stroke-width="0.6"/>
<text x="492.4" y="384" text-anchor="middle" font-size="5.8">55</text>
<line x1="518.1" y1="375.4" x2="518.1" y2="377.3" stroke="#3a3a3a" stroke-width="0.6"/>
<text x="518.1" y="384" text-anchor="middle" font-size="5.8">60</text>
<line x1="543.8" y1="375.4" x2="543.8" y2="377.3" stroke="#3a3a3a" stroke-width="0.6"/>
<text x="543.8" y="384" text-anchor="middle" font-size="5.8">65</text>
<line x1="569.5" y1="375.4" x2="569.5" y2="377.3" stroke="#3a3a3a" stroke-width="0.6"/>
<text x="569.5" y="384" text-anchor="middle" font-size="5.8">70</text>
<line x1="595.2" y1="375.4" x2="595.2" y2="377.3" stroke="#3a3a3a" stroke-width="0.6"/>
<text x="595.2" y="384" text-anchor="middle" font-size="5.8">75</text>
<line x1="620.9" y1="375.4" x2="620.9" y2="377.3" stroke="#3a3a3a" stroke-width="0.6"/>
<text x="620.9" y="384" text-anchor="middle" font-size="5.8">80</text>
<line x1="646.6" y1="375.4" x2="646.6" y2="377.3" stroke="#3a3a3a" stroke-width="0.6"/>
<text x="646.6" y="384" text-anchor="middle" font-size="5.8">85</text>
<line x1="672.3" y1="375.4" x2="672.3" y2="377.3" stroke="#3a3a3a" stroke-width="0.6"/>
<text x="672.3" y="384" text-anchor="middle" font-size="5.8">90</text>
<line x1="484.1" y1="375.4" x2="486" y2="375.4" stroke="#3a3a3a" stroke-width="0.6"/>
<text x="481.7" y="377.45" text-anchor="end" font-size="5.8">0</text>
<line x1="484.1" y1="355.47" x2="486" y2="355.47" stroke="#3a3a3a" stroke-width="0.6"/>
<text x="481.7" y="357.52" text-anchor="end" font-size="5.8">50</text>
<line x1="484.1" y1="335.54" x2="486" y2="335.54" stroke="#3a3a3a" stroke-width="0.6"/>
<text x="481.7" y="337.59" text-anchor="end" font-size="5.8">100</text>
<line x1="484.1" y1="315.61" x2="486" y2="315.61" stroke="#3a3a3a" stroke-width="0.6"/>
<text x="481.7" y="317.66" text-anchor="end" font-size="5.8">150</text>
<line x1="484.1" y1="295.69" x2="486" y2="295.69" stroke="#3a3a3a" stroke-width="0.6"/>
<text x="481.7" y="297.74" text-anchor="end" font-size="5.8">200</text>
<line x1="484.1" y1="275.76" x2="486" y2="275.76" stroke="#3a3a3a" stroke-width="0.6"/>
<text x="481.7" y="277.81" text-anchor="end" font-size="5.8">250</text>
<line x1="484.1" y1="255.83" x2="486" y2="255.83" stroke="#3a3a3a" stroke-width="0.6"/>
<text x="481.7" y="257.88" text-anchor="end" font-size="5.8">300</text>
<line x1="484.1" y1="235.9" x2="486" y2="235.9" stroke="#3a3a3a" stroke-width="0.6"/>
<text x="481.7" y="237.95" text-anchor="end" font-size="5.8">350</text>
<text x="585.15" y="223.8" text-anchor="middle" font-size="7.5">Average Pixel Intensity Distribution</text>
<text x="585.15" y="391.2" text-anchor="middle" font-size="6.0">Average Intensity</text>
<text transform="translate(467.8,301.4) rotate(-90)" x="0" y="0" text-anchor="middle" font-size="6.0">Frequency</text>
</g>
<text class="cap" x="31.38" y="194.6" font-size="13.74">(a) Distribution of<tspan font-style="italic">B</tspan> values.</text>
<text class="cap" x="260.48" y="194.6" font-size="13.7">(b) Distribution of <tspan font-style="italic">D</tspan> values.</text>
<text class="cap" x="493.28" y="194.6" font-size="13.65">(c) Distribution of <tspan font-style="italic">T</tspan>&#160; values.</text>
<text class="cap" x="29.47" y="412.5" font-size="13.85">(d) Distribution of <tspan font-style="italic">R</tspan> values.</text>
<text class="cap" x="260.87" y="412.5" font-size="13.79">(e) Distribution of <tspan font-style="italic">K</tspan> values.</text>
<text class="cap" x="463.27" y="412.5" font-size="13.8">(f) Average pixel intensity distribution.</text>
</svg>
</body></html>
